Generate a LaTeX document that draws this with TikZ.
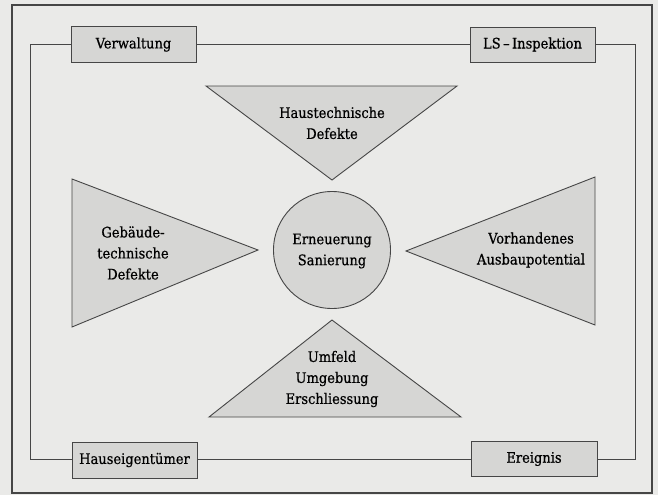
\documentclass[tikz,border=0pt]{standalone}
\usepackage{fontspec}
\setmainfont{DejaVu Serif Condensed}[FakeBold=0.6]
\definecolor{bgc}{RGB}{234,234,232}
\definecolor{shp}{RGB}{214,214,212}
\definecolor{ln}{RGB}{70,70,70}
\tikzset{
  box/.style={draw=ln, line width=0.9pt, fill=shp, minimum width=125pt, minimum height=36pt, inner sep=0pt, font=\fontsize{14.5}{21}\selectfont},
  tri/.style={draw=ln, line width=0.9pt, fill=shp},
  lbl/.style={align=center, inner sep=0pt, font=\fontsize{14.5}{21}\selectfont},
  loopline/.style={draw=ln, line width=0.8pt}
}
\begin{document}
\begin{tikzpicture}[x=1pt,y=-1pt]
\useasboundingbox (0,0) rectangle (658,495);
\fill[bgc] (0,0) rectangle (658,495);
\draw[ln, line width=1.2pt] (12,5) rectangle (652,493);
% boxes
\node[box] (verw) at (133.5,44.5) {Verwaltung};
\node[box, minimum height=35pt] (insp) at (532.5,44.5) {LS\,–\,Inspektion};
\node[box] (eig) at (134.5,460) {Hauseigentümer};
\node[box, minimum height=35pt, minimum width=126pt] (ereig) at (534,459) {Ereignis};
% loop
\coordinate (tl) at (30,44.5);
\coordinate (tr) at (635,44.5);
\coordinate (bl) at (30,459);
\coordinate (br) at (635,459);
\draw[loopline] (verw.east) -- (insp.west);
\draw[loopline] (verw.west) -- (tl) -- (bl) -- (eig.west |- bl);
\draw[loopline] (eig.east |- bl) -- (ereig.west |- bl);
\draw[loopline] (ereig.east |- br) -- (br) -- (tr) -- (insp.east);
% triangles
\filldraw[tri] (206,86) -- (457,86) -- (332,180) -- cycle;
\filldraw[tri] (72,179) -- (258,250) -- (72,327) -- cycle;
\filldraw[tri] (595,177) -- (406,251) -- (595,325) -- cycle;
\filldraw[tri] (332,320) -- (461,417) -- (209,417) -- cycle;
% circle
\node[draw=ln, line width=0.9pt, fill=shp, circle, minimum size=117pt, inner sep=0pt] (core) at (332,250) {};
% labels
\node[lbl] (haust) at (332,123) {Haustechnische\\Defekte};
\node[lbl] (geb) at (133,253) {Gebäude-\\technische\\Defekte};
\node[lbl] (ern) at (332,251) {Erneuerung\\Sanierung};
\node[lbl] (vorh) at (531,250) {Vorhandenes\\Ausbaupotential};
\node[lbl] (umf) at (332,379) {Umfeld\\Umgebung\\Erschliessung};
\end{tikzpicture}
\end{document}
